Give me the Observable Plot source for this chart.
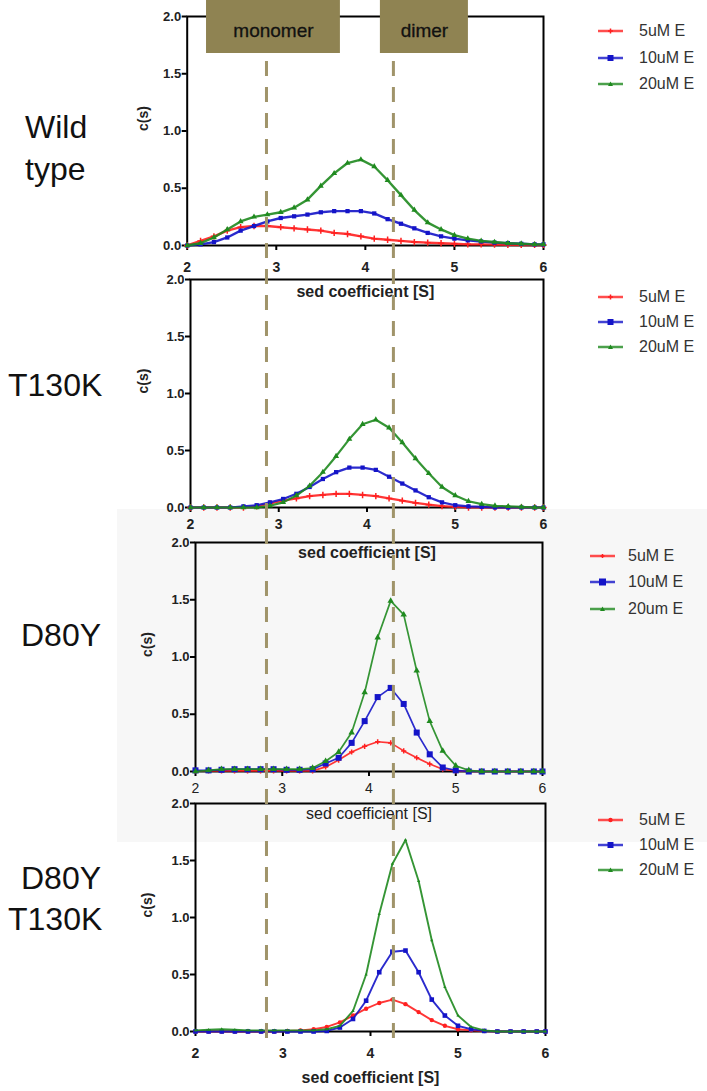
<!DOCTYPE html>
<html><head><meta charset="utf-8">
<script src="https://cdn.jsdelivr.net/npm/d3@7"></script>
<script src="https://cdn.jsdelivr.net/npm/@observablehq/plot@0.6"></script>
<style>
body{margin:0;background:#fff;font-family:"Liberation Sans",Arial,sans-serif;}
#fig{position:relative;width:707px;height:1091px;overflow:hidden;background:#fff;}
#fig svg.plotsvg{position:absolute;left:0;overflow:visible;}
.lab{position:absolute;font-size:32px;line-height:42px;color:#111;white-space:nowrap;}
.leg{position:absolute;height:18px;line-height:18px;font-size:16px;color:#333;white-space:nowrap;}
.leg svg{position:absolute;top:0;}
.bg{position:absolute;background:#f7f7f7;}
</style>
</head><body>
<div id="fig"></div>
<script>
// ---- data ----
const sed = [2.0, 2.15, 2.3, 2.45, 2.6, 2.75, 2.9, 3.05, 3.2, 3.35, 3.5, 3.65, 3.8, 3.95, 4.1, 4.25, 4.4, 4.55, 4.7, 4.85, 5.0, 5.15, 5.3, 5.45, 5.6, 5.75, 5.9, 6.0];
const xTicks = [2, 3, 4, 5, 6];
const yTicks = [0, 0.5, 1.0, 1.5, 2.0];
const xLabel = "sed coefficient [S]";
const yLabel = "c(s)";
const concLabels = ["5uM E", "10uM E", "20uM E"];
const concLabelsD80Y = ["5uM E", "10uM E", "20um E"];
const panelNames = [["Wild", "type"], ["T130K"], ["D80Y"], ["D80Y", "T130K"]];
const bandLabels = ["monomer", "dimer"];
const bandPositions = [2.89, 4.315];           // in S, top-panel scale
const bandBoxes = [[2.217, 3.72], [4.169, 5.157]];

// Wild type
const wt5  = [0.0, 0.04, 0.08, 0.13, 0.16, 0.17, 0.17, 0.16, 0.15, 0.14, 0.13, 0.11, 0.10, 0.08, 0.06, 0.05, 0.04, 0.03, 0.025, 0.02, 0.015, 0.01, 0.01, 0.008, 0.006, 0.005, 0.005, 0.005];
const wt10 = [0.0, 0.01, 0.03, 0.07, 0.13, 0.17, 0.21, 0.24, 0.255, 0.27, 0.29, 0.30, 0.30, 0.30, 0.28, 0.23, 0.19, 0.15, 0.11, 0.08, 0.06, 0.045, 0.035, 0.025, 0.02, 0.015, 0.01, 0.01];
const wt20 = [0.0, 0.02, 0.07, 0.14, 0.21, 0.25, 0.27, 0.29, 0.33, 0.40, 0.52, 0.63, 0.72, 0.75, 0.69, 0.57, 0.44, 0.31, 0.20, 0.14, 0.09, 0.06, 0.04, 0.03, 0.02, 0.015, 0.01, 0.01];
// T130K
const t5  = [0, 0, 0, 0, 0, 0.01, 0.035, 0.06, 0.08, 0.10, 0.11, 0.12, 0.12, 0.11, 0.10, 0.08, 0.06, 0.04, 0.025, 0.012, 0.005, 0, 0, 0, 0, 0, 0, 0];
const t10 = [0, 0, 0, 0, 0.01, 0.02, 0.045, 0.075, 0.12, 0.18, 0.25, 0.31, 0.35, 0.35, 0.33, 0.27, 0.21, 0.15, 0.09, 0.045, 0.02, 0.01, 0.005, 0, 0, 0, 0, 0];
const t20 = [0, 0, 0, 0, 0, 0, 0.015, 0.045, 0.105, 0.19, 0.31, 0.45, 0.60, 0.73, 0.77, 0.70, 0.57, 0.43, 0.30, 0.18, 0.105, 0.055, 0.03, 0.015, 0.01, 0.005, 0, 0];
// D80Y
const d5  = [0.005, 0.005, 0.005, 0.005, 0.005, 0.005, 0.005, 0.005, 0.005, 0.005, 0.04, 0.10, 0.17, 0.22, 0.26, 0.25, 0.18, 0.12, 0.065, 0.02, 0.005, 0, 0, 0, 0, 0, 0, 0];
const d10 = [0.01, 0.01, 0.015, 0.02, 0.02, 0.02, 0.02, 0.015, 0.015, 0.02, 0.07, 0.12, 0.25, 0.44, 0.65, 0.73, 0.59, 0.34, 0.15, 0.035, 0.01, 0, 0, 0, 0, 0, 0, 0];
const d20 = [0.0, 0.01, 0.02, 0.02, 0.02, 0.02, 0.02, 0.02, 0.02, 0.03, 0.09, 0.17, 0.34, 0.69, 1.17, 1.49, 1.37, 0.88, 0.44, 0.18, 0.05, 0.01, 0, 0, 0, 0, 0, 0];
// D80Y T130K
const dt5  = [0, 0, 0, 0, 0, 0, 0, 0.005, 0.01, 0.02, 0.04, 0.08, 0.14, 0.20, 0.25, 0.28, 0.24, 0.17, 0.10, 0.05, 0.02, 0.01, 0.005, 0, 0, 0, 0, 0];
const dt10 = [0, 0, 0, 0, 0, 0, 0, 0, 0, 0, 0.005, 0.035, 0.11, 0.27, 0.52, 0.70, 0.71, 0.52, 0.28, 0.14, 0.05, 0.02, 0.005, 0, 0, 0, 0, 0];
const dt20 = [0.01, 0.015, 0.02, 0.015, 0.01, 0.01, 0.01, 0.01, 0.01, 0.01, 0.02, 0.05, 0.18, 0.50, 1.03, 1.47, 1.68, 1.32, 0.80, 0.39, 0.14, 0.04, 0.01, 0, 0, 0, 0, 0];

const RED = "#ff2020", BLUE = "#1414c8", GREEN = "#1f8a1f";
const FONT = "'Liberation Sans', Arial, sans-serif";
const fig = document.getElementById("fig");

// light grey background behind the D80Y panel
const bg = document.createElement("div");
bg.className = "bg";
Object.assign(bg.style, {left: "117px", top: "509px", width: "590px", height: "333px"});
fig.appendChild(bg);

function rowsOf(arr) { return sed.map((s, i) => ({s, c: arr[i]})); }

function panel(cfg) {
  const mt = 20, mb = 70;
  const marks = [
    Plot.frame({stroke: "#000", strokeWidth: 2}),
    Plot.axisY({ticks: yTicks, tickFormat: d3.format(".1f"), tickSize: 5, tickPadding: 1,
      fontWeight: "bold", fontSize: 13, label: null, strokeWidth: 2, fill: "#222"}),
    Plot.axisX({ticks: xTicks, tickFormat: d => String(d), tickSize: 5, tickPadding: cfg.tickPad,
      fontWeight: cfg.xBold ? "bold" : "normal", fontSize: 14, label: null, strokeWidth: 2, fill: "#222"}),
    Plot.text([xLabel], {text: d => d, frameAnchor: "bottom", dy: cfg.labDy, lineAnchor: "middle",
      fontWeight: cfg.xBold ? "bold" : "normal", fontSize: 16, fill: "#222"}),
    Plot.text([yLabel], {text: d => d, frameAnchor: "left", dx: cfg.yDx, rotate: -90,
      fontWeight: "bold", fontSize: 14, fill: "#222"})
  ];
  const colors = [RED, BLUE, GREEN];
  cfg.series.forEach((arr, i) => {
    const rows = rowsOf(arr);
    const sym = cfg.syms[i];
    marks.push(Plot.line(rows, {x: "s", y: "c", stroke: colors[i], strokeWidth: cfg.sw, strokeOpacity: 0.9}));
    if (sym === "plus") {
      marks.push(Plot.dot(rows, {x: "s", y: "c", symbol: "plus", r: cfg.r[i], stroke: colors[i], strokeWidth: 1.5}));
    } else {
      marks.push(Plot.dot(rows, {x: "s", y: "c", symbol: sym, r: cfg.r[i], fill: colors[i], stroke: "none"}));
    }
  });
  const svg = Plot.plot({
    width: 707, height: mt + (cfg.B - cfg.T) + mb,
    marginLeft: cfg.L, marginRight: 707 - cfg.R, marginTop: mt, marginBottom: mb,
    x: {domain: [2, 6]}, y: {domain: [0, 2]},
    style: {fontFamily: FONT, background: "transparent", overflow: "visible"},
    marks
  });
  svg.classList.add("plotsvg");
  svg.style.top = (cfg.T - mt) + "px";
  fig.appendChild(svg);
}

panel({L: 186.7, R: 543, T: 16,  B: 245,  series: [wt5, wt10, wt20], syms: ["plus", "square", "triangle"], tickPad: 12, labDy: 46, xBold: true,  yDx: -44, sw: 2.4, r: [2.2, 2.4, 2.2]});
panel({L: 190,   R: 543, T: 279, B: 507,  series: [t5, t10, t20],    syms: ["plus", "square", "triangle"], tickPad: 7,  labDy: 45, xBold: true,  yDx: -47, sw: 2.2, r: [2.2, 2.4, 2.2]});
panel({L: 195,   R: 542, T: 542, B: 771,  series: [d5, d10, d20],    syms: ["plus", "square", "triangle"], tickPad: 7,  labDy: 42, xBold: false, yDx: -48, sw: 1.7, r: [1.8, 3.4, 2.4]});
panel({L: 195,   R: 545, T: 803, B: 1031, series: [dt5, dt10, dt20], syms: ["circle", "square", "triangle"], tickPad: 12, labDy: 46, xBold: true,  yDx: -48, sw: 1.9, r: [2.2, 2.6, 1.2]});

// overlay: monomer / dimer markers, in the top panel's S scale
const bandRules = bandPositions.map(s => ({s, top: 61, bottom: 1048}));
const boxes = bandBoxes.map((b, i) => ({x1: b[0], x2: b[1], y1: 0, y2: 53, label: bandLabels[i], xm: (b[0] + b[1]) / 2}));
const overlay = Plot.plot({
  width: 707, height: 1091, margin: 0,
  x: {domain: [2, 6], range: [186.7, 543], axis: null},
  y: {domain: [0, 1091], range: [0, 1091], axis: null},
  style: {fontFamily: FONT, background: "transparent", overflow: "visible"},
  marks: [
    Plot.ruleX(bandRules, {x: "s", y1: "top", y2: "bottom", stroke: "#a0946a", strokeWidth: 3, strokeDasharray: "15,11"}),
    Plot.rect(boxes, {x1: "x1", x2: "x2", y1: "y1", y2: "y2", fill: "#8f8352"}),
    Plot.text(boxes, {x: "xm", y: 30, text: "label", fontSize: 19, fill: "#111", stroke: "#111", strokeWidth: 0.3})
  ]
});
overlay.classList.add("plotsvg");
overlay.style.top = "0px";
overlay.style.pointerEvents = "none";
fig.appendChild(overlay);

// row labels
function rowLabel(lines, positions) {
  lines.forEach((t, i) => {
    const d = document.createElement("div");
    d.className = "lab";
    d.textContent = t;
    d.style.left = positions[i][0] + "px";
    d.style.top = (positions[i][1] - 32) + "px";
    fig.appendChild(d);
  });
}
rowLabel(panelNames[0], [[25, 138], [25, 180]]);
rowLabel(panelNames[1], [[8, 396]]);
rowLabel(panelNames[2], [[21, 646]]);
rowLabel(panelNames[3], [[21, 889], [8, 930]]);

// legends
function legend(lineX, textX, ys, labels, sizes, firstCircle) {
  const colors = [RED, BLUE, GREEN];
  labels.forEach((t, i) => {
    const d = document.createElement("div");
    d.className = "leg";
    d.style.left = lineX + "px";
    d.style.top = (ys[i] - 9) + "px";
    d.style.width = (707 - lineX) + "px";
    const c = colors[i], s = sizes[i];
    let m;
    if (i === 0) m = firstCircle ? `<circle cx="12.5" cy="9" r="${s}" fill="${c}"/>` : `<path d="M${12.5 - s},9h${2 * s}M12.5,${9 - s}v${2 * s}" stroke="${c}" stroke-width="1.5"/>`;
    else if (i === 1) m = `<rect x="${12.5 - s}" y="${9 - s}" width="${2 * s}" height="${2 * s}" fill="${c}"/>`;
    else m = `<path d="M12.5,${9 - s}L${12.5 + s},${9 + s * 0.8}L${12.5 - s},${9 + s * 0.8}Z" fill="${c}"/>`;
    d.innerHTML = `<svg width="25" height="18" style="left:0"><line x1="0" x2="25" y1="9" y2="9" stroke="${c}" stroke-width="2.5" stroke-opacity="0.8"/>${m}</svg><span style="position:absolute;left:${textX - lineX}px;top:0">${t}</span>`;
    fig.appendChild(d);
  });
}
legend(598, 639, [31, 58, 84], concLabels, [2.5, 3, 2.5], false);
legend(598, 639, [297, 322, 347], concLabels, [2.5, 3, 2.5], false);
legend(590, 628, [556, 582, 609], concLabelsD80Y, [2, 3.5, 2.5], false);
legend(598, 639, [820, 845, 870], concLabels, [2.2, 3, 2.5], true);
</script>
</body></html>
